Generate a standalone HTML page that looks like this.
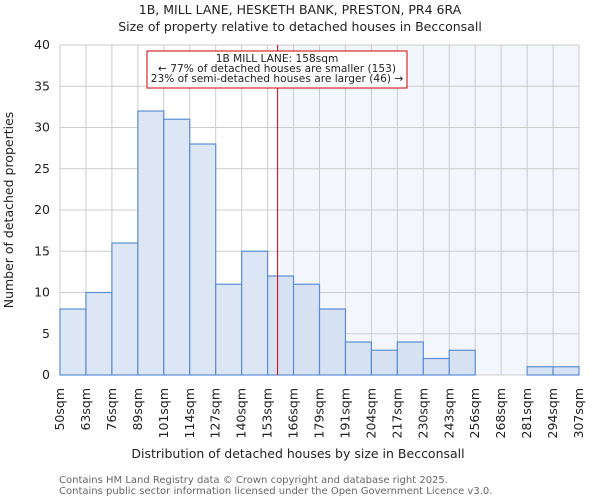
<!DOCTYPE html>
<html><head><meta charset="utf-8"><style>
body{margin:0;background:#fff;font-family:"DejaVu Sans","Liberation Sans",sans-serif}
</style></head><body>
<svg id="chart" width="600" height="500" xmlns="http://www.w3.org/2000/svg" font-family="DejaVu Sans, Liberation Sans, sans-serif">
<text x="300" y="14" text-anchor="middle" font-size="12.5" fill="#222">1B, MILL LANE, HESKETH BANK, PRESTON, PR4 6RA</text>
<text x="300" y="31" text-anchor="middle" font-size="12.5" fill="#222">Size of property relative to detached houses in Becconsall</text>
<g id="grid"></g><g id="bars"></g><g id="axes"></g>
<text transform="translate(13,210) rotate(-90)" text-anchor="middle" font-size="12.5" fill="#222">Number of detached properties</text>
<text x="298" y="458" text-anchor="middle" font-size="12.5" fill="#222">Distribution of detached houses by size in Becconsall</text>
<text x="59" y="483" font-size="10" fill="#666">Contains HM Land Registry data © Crown copyright and database right 2025.</text>
<text x="59" y="494" font-size="10" fill="#666">Contains public sector information licensed under the Open Government Licence v3.0.</text>
</svg>
<script>
const binLabels=["50sqm","63sqm","76sqm","89sqm","101sqm","114sqm","127sqm","140sqm","153sqm","166sqm","179sqm","191sqm","204sqm","217sqm","230sqm","243sqm","256sqm","268sqm","281sqm","294sqm","307sqm"];
const counts=[8,10,16,32,31,28,11,15,12,11,8,4,3,4,2,3,0,0,1,1];
const yTicks=[0,5,10,15,20,25,30,35,40];
const propertyIndex=8.385;
const NS="http://www.w3.org/2000/svg";
const x0=60,x1=579,yTop=45,yBot=375,yMax=40;
const bw=(x1-x0)/counts.length;
const xs=i=>x0+i*bw, ys=v=>yBot-(v/yMax)*(yBot-yTop);
function mk(t,a,p){const e=document.createElementNS(NS,t);for(const k in a)e.setAttribute(k,a[k]);p.appendChild(e);return e;}
const G=document.getElementById('grid'),B=document.getElementById('bars'),A=document.getElementById('axes');
const px=xs(propertyIndex);
const sh=mk('rect',{x:px,y:yTop,width:x1-px,height:yBot-yTop,fill:'#f3f6fd'},G);


yTicks.forEach(v=>{const l=mk('line',{x1:x0,x2:x1,y1:ys(v),y2:ys(v),stroke:'#ccc'},G);


const t=mk('text',{x:x0-10,y:ys(v)+4,'text-anchor':'end','font-size':'12.5',fill:'#222'},A);t.textContent=v;

});
binLabels.forEach((s,i)=>{const l=mk('line',{x1:xs(i),x2:xs(i),y1:yTop,y2:yBot,stroke:'#ccc'},G);


const t=mk('text',{transform:`translate(${xs(i)+4},388) rotate(-90)`,'text-anchor':'end','font-size':'12.5',fill:'#222'},A);t.textContent=s;

});
counts.forEach((v,i)=>{if(v<=0)return;const r=mk('rect',{x:xs(i),y:ys(v),width:bw,height:ys(0)-ys(v),fill:i>=8?'#d6e1f2':'#dde6f4',stroke:'#5b8ed6','stroke-width':1.2},B);

});
const rl=mk('line',{x1:px,x2:px,y1:yTop,y2:yBot,stroke:'#dd0000','stroke-width':1},B);


const box=mk('rect',{x:147,y:51,width:260,height:37,fill:'#fff',stroke:'#cc0000'},B);


["1B MILL LANE: 158sqm","← 77% of detached houses are smaller (153)","23% of semi-detached houses are larger (46) →"].forEach((s,i)=>{const t=mk('text',{x:277,y:62+i*10,'text-anchor':'middle','font-size':'10.6',fill:'#222'},B);t.textContent=s;

});
</script>
</body></html>
